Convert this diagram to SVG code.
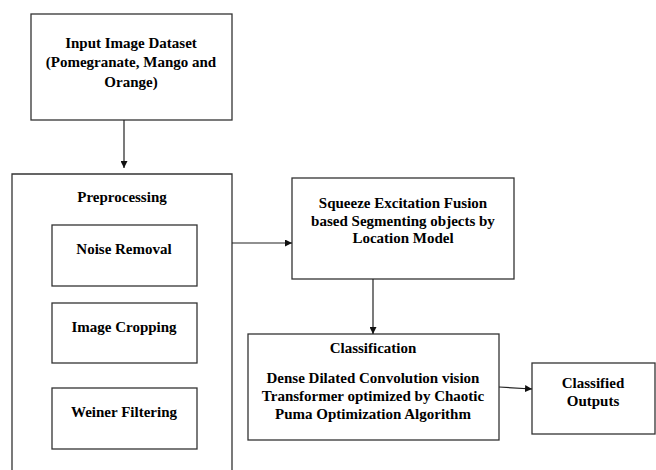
<svg xmlns="http://www.w3.org/2000/svg" width="656" height="470" viewBox="0 0 656 470">
<defs>
<style>
.box{fill:#fff;stroke:#333;stroke-width:1.3}
.t{font-family:"Liberation Serif","Times New Roman",serif;font-weight:bold;font-size:15px;fill:#000;text-anchor:middle}
.c{stroke:#222;stroke-width:1.2;fill:none}
</style>
<marker id="ah" viewBox="0 0 10 10" refX="10" refY="5" markerWidth="7" markerHeight="7" markerUnits="userSpaceOnUse" orient="auto">
<path d="M0,0 L10,5 L0,10 z" fill="#111"/>
</marker>
</defs>
<rect width="656" height="470" fill="#fff"/>
<g id="input">
<rect class="box" x="31" y="14" width="201" height="106"/>
<text class="t" x="131" y="48">Input Image Dataset</text>
<text class="t" x="131" y="67">(Pomegranate, Mango and</text>
<text class="t" x="131" y="87">Orange)</text>
</g>
<g id="preprocessing">
<path class="box" d="M12,472 L12,174 L232,174 L232,472"/>
<text class="t" x="122" y="202">Preprocessing</text>
</g>
<g id="noise">
<rect class="box" x="52" y="225" width="145" height="61"/>
<text class="t" x="124" y="254">Noise Removal</text>
</g>
<g id="cropping">
<rect class="box" x="52" y="303" width="145" height="60"/>
<text class="t" x="124" y="332">Image Cropping</text>
</g>
<g id="weiner">
<rect class="box" x="52" y="388" width="145" height="61"/>
<text class="t" x="124" y="417">Weiner Filtering</text>
</g>
<g id="segmentation">
<rect class="box" x="292" y="178" width="222" height="101"/>
<text class="t" x="403" y="208">Squeeze Excitation Fusion</text>
<text class="t" x="403" y="226">based Segmenting objects by</text>
<text class="t" x="403" y="243">Location Model</text>
</g>
<g id="classification">
<rect class="box" x="248" y="334" width="251" height="106"/>
<text class="t" x="373" y="353">Classification</text>
<text class="t" x="373" y="383">Dense Dilated Convolution vision</text>
<text class="t" x="373" y="401">Transformer optimized by Chaotic</text>
<text class="t" x="373" y="419">Puma Optimization Algorithm</text>
</g>
<g id="outputs">
<rect class="box" x="532" y="363" width="123" height="71"/>
<text class="t" x="593" y="388">Classified</text>
<text class="t" x="593" y="406">Outputs</text>
</g>
<g id="connectors">
<line class="c" x1="124" y1="120" x2="124" y2="168" marker-end="url(#ah)"/>
<line class="c" x1="232" y1="243" x2="292" y2="243" marker-end="url(#ah)"/>
<line class="c" x1="373" y1="279" x2="373" y2="334" marker-end="url(#ah)"/>
<line class="c" x1="499" y1="387" x2="532" y2="389" marker-end="url(#ah)"/>
</g>
</svg>
